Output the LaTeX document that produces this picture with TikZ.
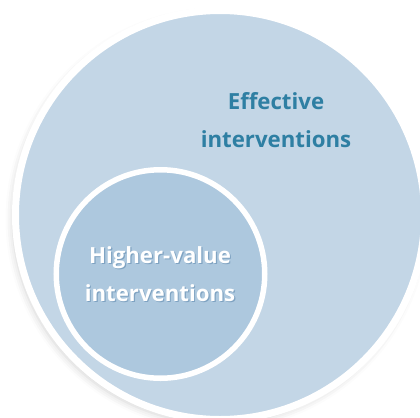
\documentclass[tikz,border=0pt]{standalone}
\usepackage{fontspec}
\setmainfont{Open Sans}
\usetikzlibrary{shadows.blur}

\definecolor{effblue}{HTML}{C3D6E6}
\definecolor{hvblue}{HTML}{ADC8DE}
\definecolor{efftext}{HTML}{2E7FA3}
\definecolor{hvshade}{HTML}{7FA3C2}

\tikzset{
  outerset/.style={circle, fill=effblue, draw=white, line width=7bp,
    inner sep=0pt, minimum size=409bp,
    blur shadow={shadow xshift=-3bp, shadow yshift=-4bp,
      shadow blur radius=7bp, shadow opacity=18}},
  innerset/.style={circle, fill=hvblue, draw=white, line width=5.5bp,
    inner sep=0pt, minimum size=208.5bp},
  settext/.style={align=center, font=\bfseries\fontsize{22.3}{38}\selectfont}
}

\begin{document}
\begin{tikzpicture}[x=1bp, y=-1bp]
  \useasboundingbox (0,0) rectangle (420,418);

  % sets
  \node[outerset] (eff) at (220,215) {}; %
  \node[innerset] (hv)  at (160.5,274) {}; %

  % labels
  \node[settext, text=efftext] (eff-lab) at (276,120) {Effective\\interventions}; %
  \node[settext, text=hvshade] (hv-sh)  at (161.2,275.2) {Higher-value\\interventions}; %
  \node[settext, text=white]   (hv-lab) at (160,274) {Higher-value\\interventions}; %

\end{tikzpicture}
\end{document}
